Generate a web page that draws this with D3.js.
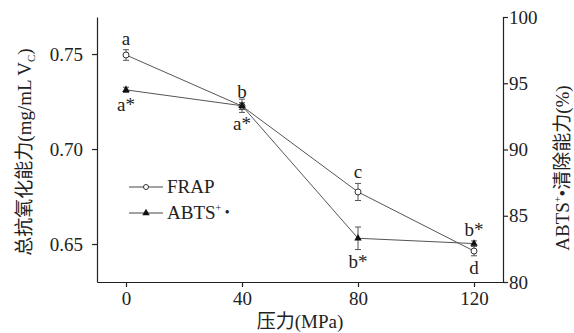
<!DOCTYPE html>
<html>
<head>
<meta charset="utf-8">
<script src="https://cdn.jsdelivr.net/npm/d3@7"></script>
<style>
body { margin: 0; background: #fff; }
svg text { font-family: "Liberation Serif", "Times New Roman", Times, "DejaVu Serif", "Noto Sans CJK SC", serif !important; fill: #222; }
</style>
</head>
<body>
<script>
let pressure = [0, 40, 80, 120];
let frap = [0.7495, 0.7226, 0.6774, 0.6463];
let frapErr = [0.0028, 0.0018, 0.0045, 0.0025];
let abts = [94.5, 93.3, 83.3, 82.9];
let abtsErr = [0.2, 0.5, 0.85, 0.2];
let frapLetters = ["a", "b", "c", "d"];
let frapPos = ["up", "up", "up", "down"];
let abtsLetters = ["a*", "a*", "b*", "b*"];
let abtsPos = ["down", "down", "down", "up"];
let leftTicks = [0.65, 0.70, 0.75];
let rightTicks = [80, 85, 90, 95, 100];

let width = 574, height = 333;
let margin = {left: 97, right: 71, top: 17, bottom: 51};
let w = width - margin.left - margin.right;
let h = height - margin.top - margin.bottom;
let serif = "'Liberation Serif', 'Times New Roman', 'DejaVu Serif', 'Noto Sans CJK SC', serif";

let svg = d3.select("body").append("svg").attr("width", width).attr("height", height)
  .attr("font-family", serif);
let g = svg.append("g").attr("transform", "translate(" + margin.left + "," + margin.top + ")");

let x = d3.scaleLinear().domain([-10, 130]).range([0, w]);
let yL = d3.scaleLinear().domain([0.63, 0.7695]).range([h, 0]);
let yR = d3.scaleLinear().domain([80, 100]).range([h, 0]);

let axisStyle = sel => {
  sel.attr("font-family", serif);
  sel.selectAll("path, line").attr("stroke", "#222").attr("stroke-width", 1.2);
  sel.selectAll("text").attr("font-size", 19).attr("fill", "#222");
};

g.append("g").attr("transform", "translate(0," + h + ")")
  .call(d3.axisBottom(x).tickValues(pressure).tickSize(5).tickSizeOuter(0).tickPadding(5))
  .call(axisStyle);
g.append("g")
  .call(d3.axisLeft(yL).tickValues(leftTicks).tickFormat(d3.format(".2f")).tickSize(5).tickSizeOuter(0).tickPadding(9))
  .call(axisStyle);
g.append("g").attr("transform", "translate(" + w + ",0)")
  .call(d3.axisRight(yR).tickValues(rightTicks).tickSize(5).tickSizeOuter(0).tickPadding(1))
  .call(axisStyle);

// connecting lines
let lineL = d3.line().x((d, i) => x(pressure[i])).y(d => yL(d));
let lineR = d3.line().x((d, i) => x(pressure[i])).y(d => yR(d));
g.append("path").datum(frap).attr("d", lineL).attr("fill", "none").attr("stroke", "#555").attr("stroke-width", 1);
g.append("path").datum(abts).attr("d", lineR).attr("fill", "none").attr("stroke", "#555").attr("stroke-width", 1);

// error bars
function errBars(vals, errs, y) {
  let eb = g.append("g").selectAll("g").data(vals).enter().append("g");
  eb.append("line").attr("x1", (d, i) => x(pressure[i])).attr("x2", (d, i) => x(pressure[i]))
    .attr("y1", (d, i) => y(d - errs[i])).attr("y2", (d, i) => y(d + errs[i]))
    .attr("stroke", "#555").attr("stroke-width", 1);
  [-1, 1].forEach(s => {
    eb.append("line").attr("x1", (d, i) => x(pressure[i]) - 3).attr("x2", (d, i) => x(pressure[i]) + 3)
      .attr("y1", (d, i) => y(d + s * errs[i])).attr("y2", (d, i) => y(d + s * errs[i]))
      .attr("stroke", "#555").attr("stroke-width", 1);
  });
}
errBars(frap, frapErr, yL);
errBars(abts, abtsErr, yR);

// markers
g.append("g").selectAll("circle").data(frap).enter().append("circle")
  .attr("cx", (d, i) => x(pressure[i])).attr("cy", d => yL(d)).attr("r", 3)
  .attr("fill", "#fff").attr("stroke", "#333").attr("stroke-width", 1);
let tri = d3.symbol().type(d3.symbolTriangle).size(24);
g.append("g").selectAll("path").data(abts).enter().append("path")
  .attr("d", tri).attr("transform", (d, i) => "translate(" + x(pressure[i]) + "," + yR(d) + ")")
  .attr("fill", "#111");

// significance letters
function letters(vals, errs, y, labs, pos) {
  g.append("g").selectAll("text").data(vals).enter().append("text")
    .attr("x", (d, i) => x(pressure[i]))
    .attr("y", (d, i) => pos[i] == "up" ? y(d + errs[i]) - 5 : y(d - errs[i]) + 18)
    .attr("text-anchor", "middle").attr("font-size", 19)
    .text((d, i) => labs[i]);
}
letters(frap, frapErr, yL, frapLetters, frapPos);
letters(abts, abtsErr, yR, abtsLetters, abtsPos);

// legend
let leg = svg.append("g").attr("transform", "translate(129,187)");
leg.append("line").attr("x1", 0).attr("x2", 34).attr("y1", 0).attr("y2", 0).attr("stroke", "#444");
leg.append("circle").attr("cx", 17).attr("cy", 0).attr("r", 2.5).attr("fill", "#fff").attr("stroke", "#333");
leg.append("text").attr("x", 38).attr("y", 6).attr("font-size", 19).text("FRAP");
leg.append("line").attr("x1", 0).attr("x2", 34).attr("y1", 26).attr("y2", 26).attr("stroke", "#444");
leg.append("path").attr("d", tri).attr("transform", "translate(17,26)").attr("fill", "#111");
let lt = leg.append("text").attr("x", 38).attr("y", 32).attr("font-size", 19);
lt.append("tspan").text("ABTS");
lt.append("tspan").attr("font-size", 10).attr("dy", -8).text("+");
lt.append("tspan").attr("font-size", 14).attr("dy", 6).text(" •");

// axis titles
svg.append("text").attr("x", margin.left + w / 2).attr("y", 328).attr("text-anchor", "middle")
  .attr("font-size", 19).text("压力(MPa)");

let tl = svg.append("text").attr("transform", "translate(31,152) rotate(-90)").attr("text-anchor", "middle")
  .attr("font-size", 19);
tl.append("tspan").text("总抗氧化能力(mg/mL V");
tl.append("tspan").attr("font-size", 11).attr("dy", 4).text("C");
tl.append("tspan").attr("dy", -4).text(")");

let tr = svg.append("text").attr("transform", "translate(569,168) rotate(-90)").attr("text-anchor", "middle")
  .attr("font-size", 19);
tr.append("tspan").text("ABTS");
tr.append("tspan").attr("font-size", 10).attr("dy", -8).text("+");
tr.append("tspan").attr("dy", 8).text("•清除能力(%)");
</script>
</body>
</html>
